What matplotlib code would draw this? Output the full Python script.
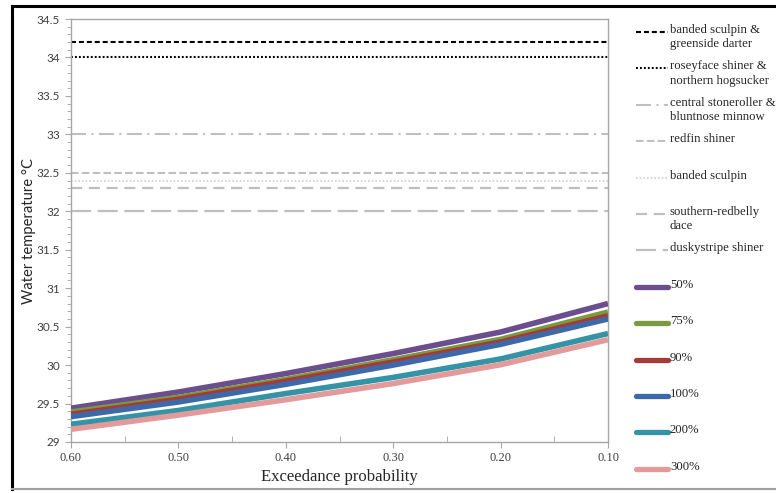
import matplotlib
matplotlib.use("Agg")
import matplotlib.pyplot as plt
from matplotlib.lines import Line2D
import numpy as np

# ---------------- data ----------------
exceed_prob = [0.60, 0.50, 0.40, 0.30, 0.20, 0.10]

series_labels = ["50%", "75%", "90%", "100%", "200%", "300%"]
temp_50 = [29.44, 29.65, 29.89, 30.15, 30.43, 30.80]
temp_75 = [29.39, 29.58, 29.815, 30.07, 30.335, 30.69]
temp_90 = [29.36, 29.555, 29.79, 30.04, 30.30, 30.64]
temp_100 = [29.33, 29.52, 29.75, 30.00, 30.27, 30.60]
temp_200 = [29.23, 29.41, 29.63, 29.84, 30.08, 30.41]
temp_300 = [29.165, 29.35, 29.55, 29.76, 30.005, 30.33]
series_values = [temp_50, temp_75, temp_90, temp_100, temp_200, temp_300]

threshold_labels = [
    "banded sculpin &\ngreenside darter",
    "roseyface shiner &\nnorthern hogsucker",
    "central stoneroller &\nbluntnose minnow",
    "redfin shiner",
    "banded sculpin",
    "southern-redbelly\ndace",
    "duskystripe shiner",
]
threshold_values = [34.2, 34.0, 33.0, 32.5, 32.4, 32.3, 32.0]

# ---------------- styles ----------------
series_colors = ["#6B4E8E", "#7A9A3F", "#A63A37", "#3D69A9", "#3593A6", "#E39A9A"]
gray = "#bfbfbf"
threshold_styles = [
    dict(color="black", lw=1.5, ls=(0, (2.4, 1.4))),
    dict(color="black", lw=1.5, ls=(0, (0.9, 1.0))),
    dict(color=gray, lw=1.5, ls=(0, (7.2, 2.6, 1.0, 2.6))),
    dict(color=gray, lw=1.5, ls=(0, (3.6, 1.6))),
    dict(color="#d0d0d0", lw=1.2, ls=(0, (1.0, 1.2))),
    dict(color=gray, lw=1.6, ls=(0, (5.0, 3.0))),
    dict(color=gray, lw=1.6, ls=(0, (9.0, 3.0))),
]

plt.rcParams["font.family"] = ["Liberation Serif", "DejaVu Serif"]
sans = ["Lato", "DejaVu Sans"]

W, H = 776, 493
fig = plt.figure(figsize=(W / 100, H / 100), dpi=100)
ax = fig.add_axes([71 / W, 1 - 442 / H, (608 - 71) / W, (442 - 19) / H])

for val, st in zip(threshold_values, threshold_styles):
    ax.axhline(val, color=st["color"], lw=st["lw"], linestyle=st["ls"], zorder=2)

for vals, col in zip(series_values, series_colors):
    ax.plot(exceed_prob, vals, color=col, lw=4.0, solid_capstyle="butt",
            solid_joinstyle="round", zorder=3)

ax.set_xlim(0.60, 0.10)
ax.set_ylim(29, 34.5)
ax.set_xticks(np.arange(0.10, 0.61, 0.10))
ax.set_xticks(np.arange(0.15, 0.60, 0.10), minor=True)
ax.set_xticklabels([f"{v:.2f}" for v in np.arange(0.10, 0.61, 0.10)])
ax.set_yticks(np.arange(29, 34.51, 0.5))
ax.set_yticklabels([f"{v:g}" for v in np.arange(29, 34.51, 0.5)], family=sans,
                   fontsize=8.5)
ax.set_yticks(np.arange(29, 34.51, 0.1), minor=True)

for s in ax.spines.values():
    s.set_color("#a6a6a6")
    s.set_linewidth(1.0)

ax.tick_params(axis="both", which="both", colors="#a6a6a6", labelcolor="#404040")
ax.tick_params(axis="x", labelsize=9)
ax.tick_params(axis="y", which="major", length=4, direction="out", pad=4)
ax.tick_params(axis="y", which="minor", length=3, direction="out")
ax.tick_params(axis="x", which="major", length=4, direction="out", pad=3.5)
ax.tick_params(axis="x", which="minor", length=4, direction="in")

ax.set_xlabel("Exceedance probability", fontsize=12, color="#262626", labelpad=3)
ax.set_ylabel("Water temperature °C", fontsize=10.6, color="#262626", family=sans)
ax.yaxis.set_label_coords(-0.066, 0.5)

# ---------------- legend (drawn in figure pixel space) ----------------
hx0, hx1, tx = 636 / W, 668 / W, 670 / W
y0, dy = 32, 36.4
legend_entries = []
for lab, st in zip(threshold_labels, threshold_styles):
    legend_entries.append((lab, dict(color=st["color"], lw=st["lw"], linestyle=st["ls"])))
for lab, col in zip(series_labels, series_colors):
    legend_entries.append((lab, dict(color=col, lw=3.8, solid_capstyle="round")))

for i, (lab, kw) in enumerate(legend_entries):
    yp = 1 - (y0 + i * dy) / H
    fig.add_artist(Line2D([hx0, hx1], [yp, yp], transform=fig.transFigure, **kw))
    fig.text(tx, yp + 8 / H, lab, fontsize=9.2, color="#262626", va="top", ha="left",
             linespacing=1.25)

# ---------------- outer frame ----------------
fig.add_artist(Line2D([11.5 / W, 11.5 / W], [1 - 5.5 / H, 1 - 489 / H],
                      transform=fig.transFigure, color="black", lw=2.2))
fig.add_artist(Line2D([11.5 / W, 1.0], [1 - 5.5 / H, 1 - 5.5 / H],
                      transform=fig.transFigure, color="black", lw=2.2))
fig.add_artist(Line2D([11.5 / W, 1.0], [1 - 489 / H, 1 - 489 / H],
                      transform=fig.transFigure, color="#a0a0a0", lw=1.5))

fig.savefig("out.png", dpi=100)
